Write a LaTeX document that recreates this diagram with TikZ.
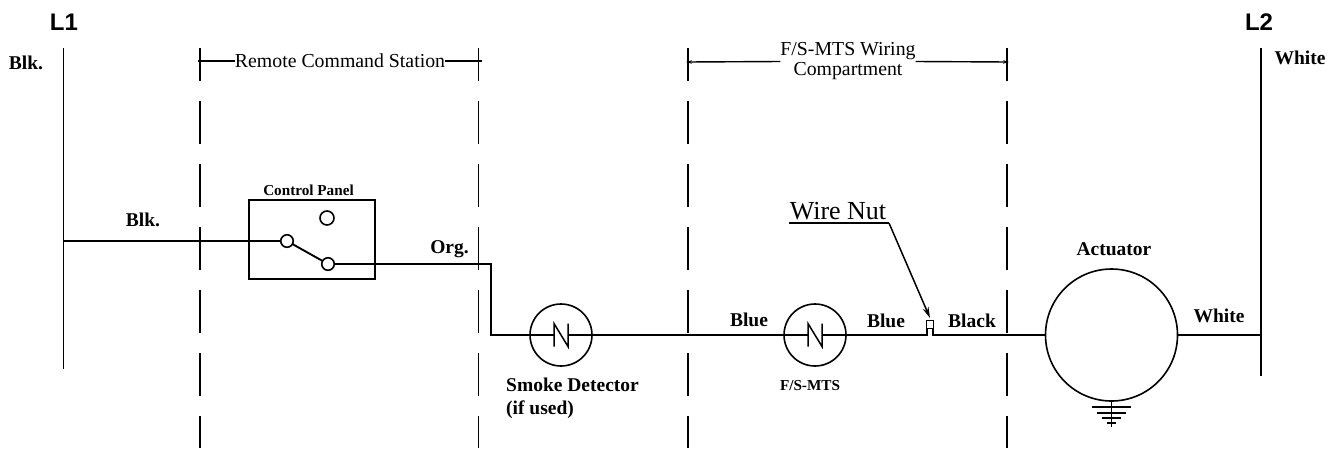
\documentclass[tikz,border=0pt]{standalone}
\usepackage{fontspec}
\setmainfont{Liberation Serif}
\newfontfamily\linefont{Liberation Sans}
\usepackage{tikz}
\usetikzlibrary{positioning,arrows.meta}

\tikzset{
    wire/.style={line width=1.9pt},
    thinwire/.style={line width=1.5pt},
    zoneline/.style={line width=1.7pt, dash pattern=on 43pt off 20pt, dash phase=10pt},
    dimline/.style={line width=1.4pt},
    relay/.style={circle, draw, line width=1.6pt, minimum size=62pt, inner sep=0pt, outer sep=0pt},
    contact/.style={circle, draw, fill=white, line width=1.6pt, minimum size=12.5pt, inner sep=0pt, outer sep=0pt},
    linelabel/.style={inner sep=0pt, font=\linefont\bfseries\fontsize{24}{26}\selectfont},
    wirelabel/.style={inner sep=0pt, align=left, font=\bfseries\fontsize{19.5}{23}\selectfont},
    smalllabel/.style={inner sep=0pt, font=\bfseries\fontsize{15.2}{17}\selectfont},
    zonelabel/.style={inner sep=0pt, align=center, font=\fontsize{19.8}{20}\selectfont}
}

\begin{document}
\begin{tikzpicture}[x=1pt, y=-1pt]

    \useasboundingbox (0,0) rectangle (1338,448);

    \node[linelabel] (l1) at (64,22) {L1};
    \node[linelabel] (l2) at (1259,22) {L2};
    \node[wirelabel] (blkleft) at (26,63) {Blk.};
    \node[wirelabel] (whiteright) at (1300,58) {White};

    \coordinate (l1top) at (63.5,48);
    \coordinate (l1bottom) at (63.5,369);
    \coordinate (l2top) at (1261,48);
    \coordinate (l2bottom) at (1261,376);
    \draw[wire] (l1top) -- (l1bottom);
    \draw[wire] (l2top) -- (l2bottom);

    \foreach \zone/\xpos in {za/200,zb/478.5,zc/688,zd/1007} {
        \coordinate (\zone top) at (\xpos,48);
        \coordinate (\zone bottom) at (\xpos,448);
        \draw[zoneline] (\zone top) -- (\zone bottom);
    }

    \node[zonelabel] (remote) at (340,61) {Remote Command Station};
    \coordinate (remotel) at (198,61);
    \coordinate (remoter) at (482,61);
    \draw[dimline] (remotel) -- (remote.west);
    \draw[dimline] (remote.east) -- (remoter);

    \node[zonelabel] (wiring) at (848,61.5) {F/S-MTS Wiring\\Compartment};
    \coordinate (wiringl) at (686,62);
    \coordinate (wiringr) at (1009,62);
    \draw[dimline, {Stealth[length=6pt,width=3.5pt]}-] (wiringl) -- (wiring.west);
    \draw[dimline, -{Stealth[length=6pt,width=3.5pt]}] (wiring.east) -- (wiringr);

    \node[draw, line width=1.6pt, minimum width=126pt, minimum height=79pt, inner sep=0pt] (panel) at (312,239.5) {};
    \node[smalllabel] (paneltext) at (308.5,190) {Control Panel};
    \node[contact] (contacta) at (287,241) {};
    \node[contact] (contactb) at (328,264) {};
    \node[contact, minimum size=14pt] (contactc) at (327,218) {};

    \node[relay] (smoke) at (561,335) {};
    \node[relay] (mts) at (815,335) {};
    \node[circle, draw, line width=1.6pt, minimum size=132pt, inner sep=0pt, outer sep=0pt] (actuator) at (1111.5,335) {};
    \node[draw, line width=1.5pt, minimum width=7pt, minimum height=8pt, inner sep=0pt, outer sep=0pt] (nut) at (930,324.5) {};

    \coordinate (l1tap) at (63.5,241);
    \coordinate (l2tap) at (1261,335);
    \coordinate (orgturn) at (491,264);
    \coordinate (orgdown) at (491,335);
    \coordinate (nutleft) at (927,335);
    \coordinate (nutright) at (933,335);

    \draw[wire] (l1tap) -- (contacta);
    \draw[wire] (contacta) -- (contactb);
    \draw[wire] (contactb) -- (orgturn) -- (orgdown) -- (smoke.west);
    \draw[wire] (smoke.east) -- (mts.west);
    \draw[wire] (mts.east) -- (nutleft) -- (nutleft |- nut.south);
    \draw[wire] (nutright |- nut.south) -- (nutright) -- (actuator.west);
    \draw[wire] (actuator.east) -- (l2tap);

    \foreach \sym in {smoke,mts} {
        \draw[wire] ([xshift=-31pt]\sym.center) -- ([xshift=-7pt]\sym.center);
        \draw[wire] ([xshift=7pt]\sym.center) -- ([xshift=31pt]\sym.center);
        \draw[thinwire]
            ([xshift=-7pt,yshift=-11.5pt]\sym.center) --
            ([xshift=-7pt,yshift=11.5pt]\sym.center) --
            ([xshift=7pt,yshift=-11.5pt]\sym.center) --
            ([xshift=7pt,yshift=11.5pt]\sym.center);
    }

    \foreach \bar/\halfw in {6/19.5,12/14.5,17/9.5,22/4.5} {
        \draw[thinwire] ([xshift=-\halfw pt,yshift=-\bar pt]actuator.south) -- ([xshift=\halfw pt,yshift=-\bar pt]actuator.south);
    }
    \coordinate (groundend) at (1111.5,427);
    \draw[thinwire] (actuator.south) -- (groundend);

    \node[inner sep=0pt, font=\fontsize{26}{28}\selectfont] (nuttext) at (838,211) {Wire Nut};
    \coordinate (nutlinea) at (789,223);
    \coordinate (nutlineb) at (889,223);
    \coordinate (nuttip) at (930,318);
    \draw[thinwire] (nutlinea) -- (nutlineb);
    \draw[thinwire, -{Stealth[length=11pt,width=6pt]}] (nutlineb) -- (nuttip);

    \node[wirelabel] (blkwire) at (143,220) {Blk.};
    \node[wirelabel] (orgwire) at (449.5,249) {Org.};
    \node[wirelabel, anchor=north west] (smoketext) at (506,378) {Smoke Detector\\(if used)};
    \node[wirelabel] (bluea) at (749,320) {Blue};
    \node[wirelabel] (blueb) at (886,321) {Blue};
    \node[wirelabel] (blackwire) at (972,321) {Black};
    \node[smalllabel] (mtstext) at (810,386) {F/S-MTS};
    \node[wirelabel] (acttext) at (1114,249) {Actuator};
    \node[wirelabel] (whitewire) at (1219,316) {White};

\end{tikzpicture}
\end{document}
